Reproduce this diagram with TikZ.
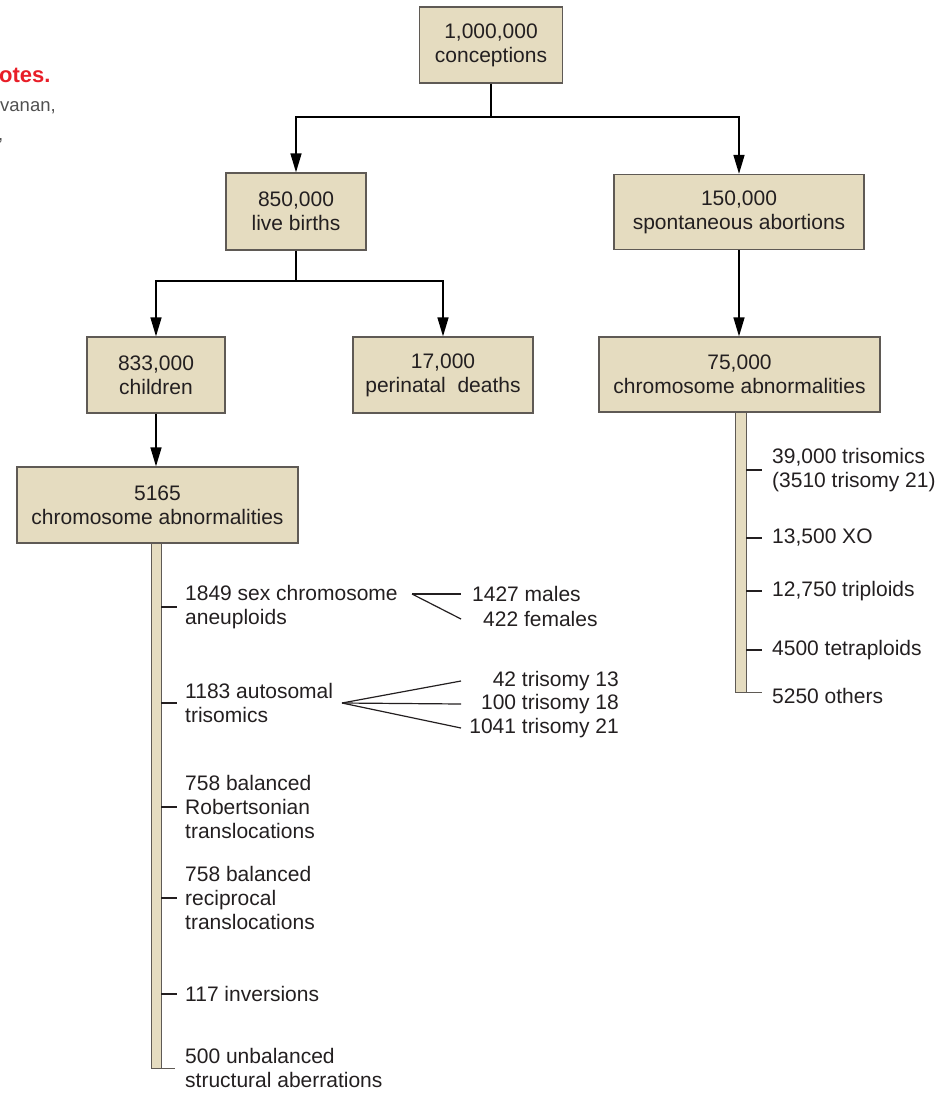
\documentclass[tikz,border=0pt]{standalone}
\usepackage{fontspec}
\setmainfont{Liberation Sans}
\usetikzlibrary{arrows.meta}
\definecolor{boxfill}{RGB}{229,220,192}
\definecolor{boxline}{RGB}{95,90,85}
\definecolor{ink}{RGB}{35,31,32}
\definecolor{notered}{RGB}{232,30,40}
\definecolor{notegray}{RGB}{80,80,80}
\begin{document}
\begin{tikzpicture}[x=1pt,y=-1pt,
  every node/.style={font=\fontsize{21}{24}\selectfont, text=ink, inner sep=0pt},
  box/.style={draw=boxline, line width=1.3pt, fill=boxfill, align=center},
  item/.style={anchor=west, align=left},
  conn/.style={draw=black, line width=1.5pt},
  arr/.style={conn, -{Triangle[length=19pt,width=11pt]}},
  tickline/.style={draw=ink, line width=1.2pt},
  barline/.style={draw=boxline, line width=1.3pt},
  barfill/.style={fill=boxfill, draw=none, inner sep=0pt},
]
\useasboundingbox (0,0) rectangle (940,1094);

% clipped page notes
\node[anchor=base west, font=\fontsize{22}{24}\selectfont\bfseries, text=notered] (n1) at (-1,83) {otes.};
\node[anchor=base west, font=\fontsize{18.5}{22}\selectfont, text=notegray] (n2) at (0,112) {vanan,};
\node[anchor=base west, font=\fontsize{18.5}{22}\selectfont, text=notegray] (n3) at (-2,141) {,};

% bars
\node[barfill, minimum width=9pt, minimum height=525pt] (lbar) at (156.5,805.5) {};
\node[barfill, minimum width=10pt, minimum height=280pt] (rbar) at (741,552) {};

% boxes
\node[box, minimum width=143pt, minimum height=76pt] (b1) at (491,45) {1,000,000\\conceptions};
\node[box, minimum width=140pt, minimum height=77pt] (b2) at (296,211.5) {850,000\\live births};
\node[box, minimum width=250pt, minimum height=75pt] (b3) at (739,212) {150,000\\spontaneous abortions};
\node[box, minimum width=138pt, minimum height=76pt] (b4) at (156,375) {833,000\\children};
\node[box, minimum width=180pt, minimum height=76pt] (b5) at (443,375) {17,000\\perinatal\ \ deaths};
\node[box, minimum width=281pt, minimum height=75pt] (b6) at (739.5,374.5) {75,000\\chromosome abnormalities};
\node[box, minimum width=281pt, minimum height=76pt] (b7) at (157.5,505) {5165\\chromosome abnormalities};

% connectors
\coordinate (j1) at (491,117);
\coordinate (j2) at (296,281);
\draw[conn] (b1.south) -- (j1);
\draw[arr] (j1) -| (b2.north);
\draw[arr] (j1) -| (b3.north);
\draw[conn] (b2.south) -- (j2);
\draw[arr] (j2) -| (b4.north);
\draw[arr] (j2) -| (b5.north);
\draw[arr] (b3.south) -- (b3.south |- b6.north);
\draw[arr] (b4.south) -- (b4.south |- b7.north);

% bar edges
\draw[barline] (lbar.north west) -- (lbar.south west) -- ++(23,0);
\draw[barline] (lbar.north east) -- (lbar.south east);
\draw[barline] (rbar.north west) -- (rbar.south west) -- ++(26,0);
\draw[barline] (rbar.north east) -- (rbar.south east);

% left items
\node[item] (l1) at (185,607) {1849 sex chromosome\\aneuploids};
\node[item] (l2) at (185,703) {1183 autosomal\\trisomics};
\node[item] (l3) at (185,807) {758 balanced\\Robertsonian\\translocations};
\node[item] (l4) at (185,898) {758 balanced\\reciprocal\\translocations};
\node[item] (l5) at (185,994) {117 inversions};
\node[item] (l6) at (185,1068) {500 unbalanced\\structural aberrations};
\foreach \n in {l1,l2,l3,l4,l5}
  \draw[tickline] (lbar.east |- \n.west) -- ++(16,0);

% right items
\node[item] (r1) at (772,470) {39,000 trisomics\\(3510 trisomy 21)};
\node[item] (r2) at (772,538) {13,500 XO};
\node[item] (r3) at (772,591) {12,750 triploids};
\node[item] (r4) at (772,650) {4500 tetraploids};
\node[item] (r5) at (772,696) {5250 others};
\foreach \n in {r1,r2,r3,r4}
  \draw[tickline] (rbar.east |- \n.west) -- ++(16,0);

% sex chromosome split
\coordinate (sx) at (412,594);
\coordinate (sxe) at (461,0);
\node[anchor=west] (m) at (472,594) {1427 males};
\node[anchor=west] (f) at (483,619) {422 females};
\draw[tickline] (sx) -- (m.west -| sxe);
\draw[tickline] (sx) -- (f.west -| sxe);

% autosomal split
\coordinate (ax) at (342,703);
\coordinate (axe) at (461,0);
\node[anchor=east] (t13) at (619,681) {42 trisomy 13};
\node[anchor=east] (t18) at (619,704) {100 trisomy 18};
\node[anchor=east] (t21) at (619,728) {1041 trisomy 21};
\draw[tickline] (ax) -- (t13.east -| axe);
\draw[tickline] (ax) -- (t18.east -| axe);
\draw[tickline] (ax) -- (t21.east -| axe);
\end{tikzpicture}
\end{document}
